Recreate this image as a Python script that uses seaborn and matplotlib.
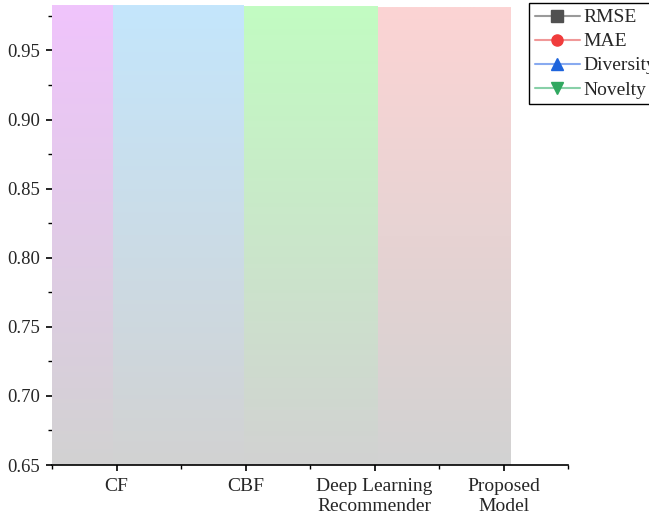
import numpy as np
import matplotlib
matplotlib.use("Agg")
import matplotlib.pyplot as plt
from matplotlib.colors import to_rgb
from matplotlib.lines import Line2D
from matplotlib.ticker import MultipleLocator, FixedLocator, FormatStrFormatter
import seaborn as sns

# ---- data ----
methods = ["CF", "CBF", "Deep Learning\nRecommender", "Proposed\nModel"]
bar_left = [-0.56, -0.025, 0.99, 2.025]
bar_right = [-0.025, 0.99, 2.025, 3.05]
bar_top = [0.9826, 0.9826, 0.9819, 0.9812]
top_colors = ["#f0c4fc", "#c4e6fc", "#c2fcc2", "#fcd4d4"]
bottom_color = "#d2d2d2"

series = ["RMSE", "MAE", "Diversity", "Novelty"]
series_markers = ["s", "o", "^", "v"]
series_colors = ["#505050", "#f03c3c", "#1e64dc", "#30a860"]
series_line_colors = ["#9a9a9a", "#f09898", "#88aaf0", "#88d0a8"]

y_min, y_max = 0.65, 0.9843

sns.set_theme(style="ticks")
plt.rcParams["font.family"] = ["Liberation Serif", "DejaVu Serif"]

fig = plt.figure(figsize=(6.49, 5.21), dpi=100)
ax = fig.add_axes([52 / 649, 56 / 521, (568 - 52) / 649, (465 - 3) / 521])

# gradient bars: coloured at the top, fading to grey at the baseline
for x0, x1, top, col in zip(bar_left, bar_right, bar_top, top_colors):
    ax.bar(x0, top - y_min, width=x1 - x0, bottom=y_min, align="edge",
           color="none", linewidth=0)
    t = np.linspace(0, 1, 256)[:, None]
    c_top = np.array(to_rgb(col))
    c_bot = np.array(to_rgb(bottom_color))
    grad = c_top[None, None, :] * (1 - t[:, :, None]) + c_bot[None, None, :] * t[:, :, None]
    ax.imshow(grad, extent=(x0, x1, y_min, top), origin="upper",
              aspect="auto", interpolation="bilinear", zorder=1)

ax.set_xlim(-0.5, 3.5)
ax.set_ylim(y_min, y_max)

ax.set_xticks(range(len(methods)))
ax.set_xticklabels(methods, fontsize=14)
ax.xaxis.set_minor_locator(FixedLocator([-0.5, 0.5, 1.5, 2.5, 3.5]))
ax.yaxis.set_major_locator(MultipleLocator(0.05))
ax.yaxis.set_minor_locator(MultipleLocator(0.025))
ax.yaxis.set_major_formatter(FormatStrFormatter("%.2f"))
ax.tick_params(axis="y", labelsize=13.5, pad=4)
ax.tick_params(axis="x", pad=5)
ax.tick_params(which="major", direction="out", length=4.5, width=1.2, color="black")
ax.tick_params(which="minor", direction="out", length=3, width=1.0, color="black")

for side in ["top", "right", "left"]:
    ax.spines[side].set_visible(False)
ax.spines["bottom"].set_color("black")
ax.spines["bottom"].set_linewidth(1.2)

handles = [Line2D([], [], color=lc, marker=m, markerfacecolor=c, markeredgecolor=c,
                  markersize=8, linewidth=1.5, label=s)
           for s, m, c, lc in zip(series, series_markers, series_colors, series_line_colors)]
leg = fig.legend(handles=handles, loc="upper left", bbox_to_anchor=(529 / 649, 1 - 3 / 521),
                 fontsize=14, frameon=True, fancybox=False, framealpha=1,
                 handlelength=2.3, handletextpad=0.2, borderpad=0.3, labelspacing=0.33,
                 borderaxespad=0)
leg.get_frame().set_edgecolor("black")
leg.get_frame().set_linewidth(1.0)

fig.savefig("out.png", dpi=100)
